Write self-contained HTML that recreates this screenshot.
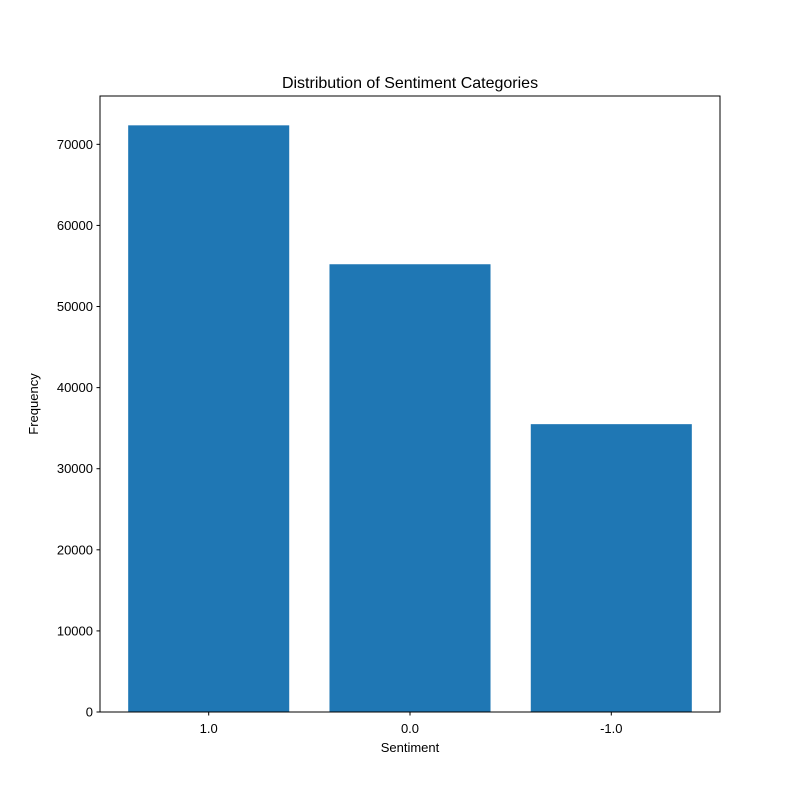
<!DOCTYPE html>
<html><head><meta charset="utf-8"><style>
html,body{margin:0;padding:0;background:#fff;}
svg text{font-family:"Liberation Sans","DejaVu Sans",sans-serif;fill:#000;}
</style></head><body>
<svg id="chart" width="800" height="800" viewBox="0 0 800 800" xmlns="http://www.w3.org/2000/svg">
<rect x="0" y="0" width="800" height="800" fill="#fff"/>
<text x="410" y="88" font-size="16" text-anchor="middle">Distribution of Sentiment Categories</text>
<g id="bars"></g>
<g id="ticks"></g>
<rect x="100" y="96" width="620" height="616" fill="none" stroke="#000" stroke-width="1"/>
<text x="410" y="752" font-size="13" text-anchor="middle">Sentiment</text>
<text x="38" y="404" font-size="13" text-anchor="middle" transform="rotate(-90 38 404)">Frequency</text>
</svg>
<script>
const categories = ["1.0", "0.0", "-1.0"];
const values = [72343, 55213, 35494];
const yTicks = [0, 10000, 20000, 30000, 40000, 50000, 60000, 70000];

const L = 100, R = 720, T = 96, B = 712;
const n = categories.length;
const xmin = -0.4 - 0.05 * (n - 1 + 0.8), xmax = n - 1 + 0.4 + 0.05 * (n - 1 + 0.8);
const ymax = Math.max(...values) * 1.05;
const xs = v => L + (v - xmin) / (xmax - xmin) * (R - L);
const ys = v => B - v / ymax * (B - T);
const NS = "http://www.w3.org/2000/svg";
const bars = document.getElementById("bars");
const ticks = document.getElementById("ticks");

values.forEach((v, i) => {
  const r = document.createElementNS(NS, "rect");
  r.setAttribute("x", xs(i - 0.4));
  r.setAttribute("y", ys(v));
  r.setAttribute("width", xs(i + 0.4) - xs(i - 0.4));
  r.setAttribute("height", B - ys(v));
  r.setAttribute("fill", "#1f77b4");
  
  
  bars.appendChild(r);

  const t = document.createElementNS(NS, "line");
  t.setAttribute("x1", xs(i)); t.setAttribute("x2", xs(i));
  t.setAttribute("y1", B); t.setAttribute("y2", B + 3.5);
  t.setAttribute("stroke", "#000");
  
  
  ticks.appendChild(t);

  const lb = document.createElementNS(NS, "text");
  lb.setAttribute("x", xs(i)); lb.setAttribute("y", B + 21);
  lb.setAttribute("font-size", "13"); lb.setAttribute("text-anchor", "middle");
  lb.textContent = categories[i];
  
  
  ticks.appendChild(lb);
});

yTicks.forEach(v => {
  const t = document.createElementNS(NS, "line");
  t.setAttribute("x1", L - 3.5); t.setAttribute("x2", L);
  t.setAttribute("y1", ys(v)); t.setAttribute("y2", ys(v));
  t.setAttribute("stroke", "#000");
  
  
  ticks.appendChild(t);

  const lb = document.createElementNS(NS, "text");
  lb.setAttribute("x", L - 7); lb.setAttribute("y", ys(v) + 4.5);
  lb.setAttribute("font-size", "13"); lb.setAttribute("text-anchor", "end");
  lb.textContent = v;
  
  
  ticks.appendChild(lb);
});
</script>
</body></html>
